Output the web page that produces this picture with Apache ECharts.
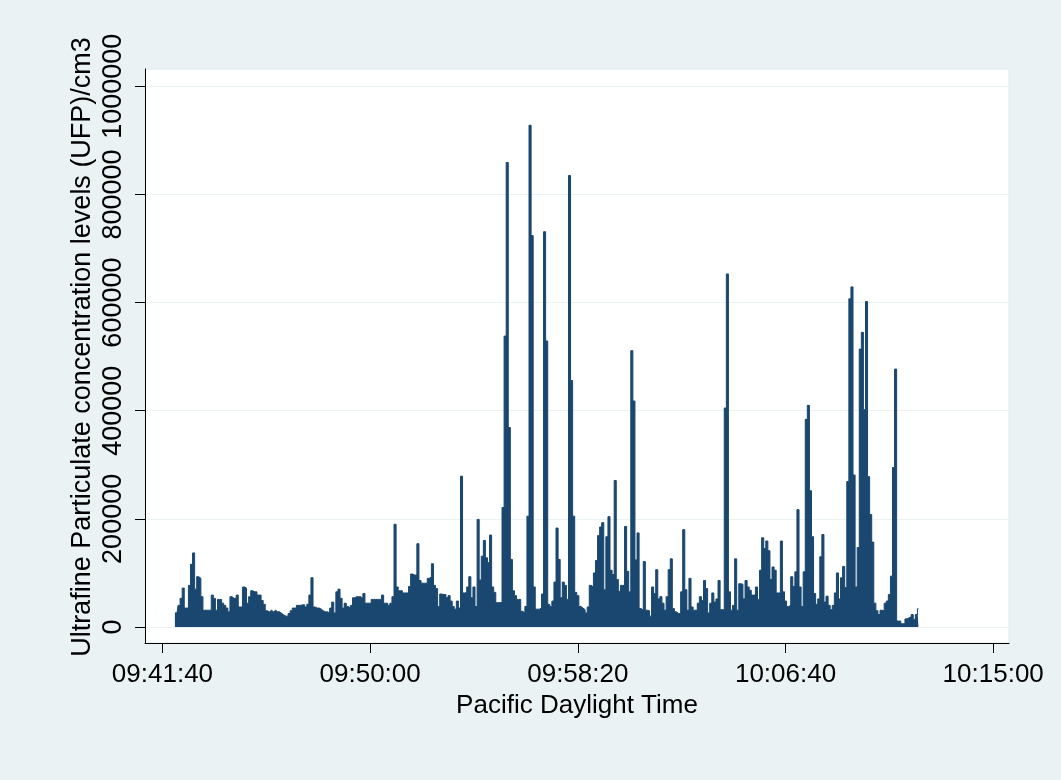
<!DOCTYPE html>
<html>
<head>
<meta charset="utf-8">
<title>Ultrafine Particulate concentration levels</title>
<script src="https://cdn.jsdelivr.net/npm/echarts@6/dist/echarts.min.js"></script>
<style>
  html, body { margin: 0; padding: 0; background: #EAF2F3; }
  #chart { width: 1061px; height: 780px; }
</style>
</head>
<body>
<div id="chart"></div>
<script>
// Time-axis tick labels (Pacific Daylight Time)
const tickLabels = ['09:41:40', '09:50:00', '09:58:20', '10:06:40', '10:15:00'];
// Y-axis tick values
const yTicks = [0, 200000, 400000, 600000, 800000, 1000000];
// Readings: first sample time and spacing between samples
const startTime = '09:42:10';
const stepSeconds = 5;
// UFP concentration (particles / cm3), one reading per step
const ufp = [
  26000, 26000, 40000, 53000, 72000, 35000, 35000, 77000, 116000, 137000,
  70000, 93000, 90000, 56000, 31000, 31000, 31000, 31000, 59000, 53000,
  31000, 51000, 51000, 44000, 40000, 35000, 28000, 56000, 53000, 53000,
  59000, 37000, 37000, 74000, 72000, 44000, 56000, 67000, 65000, 65000,
  59000, 59000, 49000, 42000, 30000, 28000, 31000, 28000, 31000, 28000,
  28000, 25000, 22000, 20000, 20000, 25000, 30000, 35000, 35000, 40000,
  40000, 41000, 41000, 37000, 42000, 59000, 91000, 37000, 35000, 35000,
  33000, 30000, 28000, 28000, 26000, 35000, 46000, 26000, 65000, 70000,
  53000, 35000, 44000, 38000, 35000, 40000, 54000, 56000, 56000, 56000,
  53000, 62000, 44000, 44000, 44000, 51000, 51000, 51000, 51000, 51000,
  59000, 44000, 44000, 40000, 44000, 56000, 190000, 74000, 67000, 67000,
  63000, 63000, 63000, 75000, 98000, 96000, 96000, 154000, 86000, 81000,
  81000, 81000, 90000, 93000, 117000, 77000, 71000, 38000, 61000, 60000,
  60000, 54000, 58000, 48000, 38000, 33000, 48000, 35000, 279000, 63000,
  64000, 74000, 93000, 54000, 74000, 38000, 199000, 87000, 131000, 160000,
  128000, 119000, 170000, 74000, 64000, 45000, 45000, 45000, 221000, 538000,
  859000, 369000, 125000, 67000, 58000, 51000, 51000, 29000, 26000, 38000,
  205000, 928000, 724000, 74000, 33000, 33000, 35000, 61000, 731000, 529000,
  42000, 38000, 48000, 83000, 183000, 125000, 54000, 83000, 77000, 51000,
  835000, 456000, 205000, 64000, 58000, 38000, 35000, 32000, 26000, 37000,
  77000, 74000, 100000, 123000, 169000, 185000, 193000, 69000, 167000, 204000,
  105000, 97000, 271000, 88000, 66000, 77000, 77000, 186000, 103000, 65000,
  511000, 418000, 124000, 174000, 34000, 31000, 121000, 31000, 30000, 20000,
  74000, 62000, 106000, 52000, 56000, 44000, 31000, 56000, 106000, 126000,
  34000, 28000, 25000, 25000, 65000, 180000, 69000, 31000, 90000, 37000,
  31000, 31000, 44000, 56000, 49000, 86000, 71000, 26000, 44000, 63000,
  46000, 52000, 86000, 32000, 32000, 405000, 653000, 65000, 31000, 40000,
  126000, 31000, 80000, 79000, 52000, 86000, 74000, 68000, 59000, 59000,
  74000, 51000, 105000, 165000, 145000, 159000, 141000, 88000, 111000, 105000,
  63000, 63000, 159000, 65000, 48000, 38000, 40000, 93000, 75000, 102000,
  217000, 74000, 38000, 102000, 384000, 410000, 252000, 167000, 62000, 42000,
  52000, 130000, 171000, 46000, 57000, 40000, 32000, 40000, 63000, 100000,
  52000, 91000, 112000, 73000, 269000, 607000, 629000, 281000, 74000, 147000,
  514000, 545000, 402000, 602000, 278000, 208000, 157000, 44000, 30000, 23000,
  31000, 30000, 44000, 48000, 60000, 94000, 295000, 477000, 11000, 11000,
  6000, 6000, 15000, 17000, 19000, 23000, 14000, 23000, 34000
];

const FONT = '"Liberation Sans", Arial, sans-serif';
const NAVY = '#1A476F';
const INK = '#000000';

function toSeconds(hms) {
  const p = hms.split(':').map(Number);
  return p[0] * 3600 + p[1] * 60 + p[2];
}
function toClock(sec) {
  const h = Math.floor(sec / 3600), m = Math.floor((sec % 3600) / 60), s = Math.round(sec % 60);
  const pad = n => String(n).padStart(2, '0');
  return pad(h) + ':' + pad(m) + ':' + pad(s);
}

const t0 = toSeconds(startTime);
const seriesData = ufp.map((v, i) => [t0 + i * stepSeconds, v]);
const tickSeconds = tickLabels.map(toSeconds);

const chart = echarts.init(document.getElementById('chart'), null, { renderer: 'canvas' });
chart.setOption({
  backgroundColor: '#EAF2F3',
  animation: false,
  textStyle: { fontFamily: FONT },
  grid: {
    left: 145, right: 52, top: 69, bottom: 137,
    containLabel: false,
    show: true, backgroundColor: '#FFFFFF', borderColor: '#E1EAEC', borderWidth: 1
  },
  xAxis: {
    type: 'value',
    min: tickSeconds[0] - 42,
    max: tickSeconds[tickSeconds.length - 1] + 38,
    axisLine: { show: true, onZero: false, lineStyle: { color: INK, width: 1 } },
    axisTick: { show: true, length: 10, customValues: tickSeconds, lineStyle: { color: INK } },
    axisLabel: {
      customValues: tickSeconds,
      formatter: v => toClock(v),
      hideOverlap: false,
      fontSize: 26, color: INK, margin: 19, fontFamily: FONT
    },
    splitLine: { show: false },
    name: 'Pacific Daylight Time',
    nameLocation: 'middle',
    nameGap: 45,
    nameTextStyle: { fontSize: 26, color: INK, fontFamily: FONT }
  },
  yAxis: {
    type: 'value',
    min: -29600,
    max: 1032000,
    axisLine: { show: true, onZero: false, lineStyle: { color: INK, width: 1 } },
    axisTick: { show: true, length: 10, customValues: yTicks, lineStyle: { color: INK } },
    axisLabel: {
      customValues: yTicks,
      formatter: v => String(v),
      hideOverlap: false,
      rotate: 90,
      fontSize: 27, color: INK, margin: 18, fontFamily: FONT
    },
    splitLine: { show: true, lineStyle: { color: '#EAF2F3', width: 1 } }
  },
  graphic: [{
    type: 'text',
    x: 83, y: 347,
    rotation: Math.PI / 2,
    style: {
      text: 'Ultrafine Particulate concentration levels (UFP)/cm3',
      fontSize: 27, fontFamily: FONT, fill: INK,
      align: 'center', verticalAlign: 'middle'
    }
  }],
  series: [{
    type: 'line',
    step: 'middle',
    data: seriesData,
    symbol: 'none',
    lineStyle: { color: NAVY, width: 1 },
    itemStyle: { color: NAVY },
    areaStyle: { color: NAVY, opacity: 1 }
  }]
});
</script>
</body>
</html>
